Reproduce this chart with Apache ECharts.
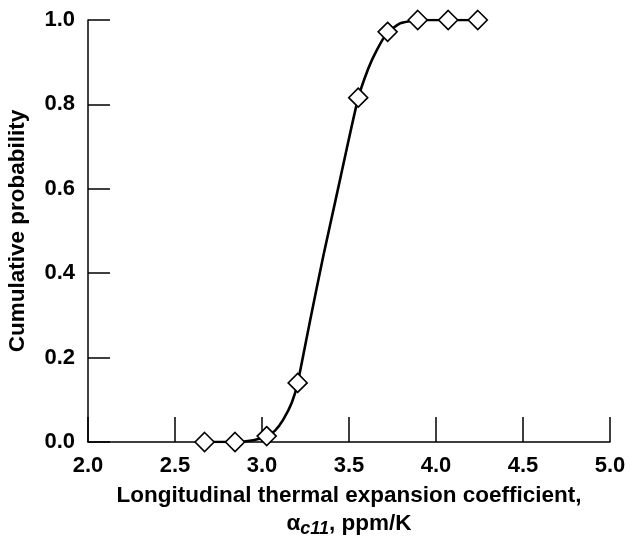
<!DOCTYPE html>
<html>
<head>
<meta charset="utf-8">
<script src="https://cdn.jsdelivr.net/npm/echarts@6/dist/echarts.min.js"></script>
<style>
html,body{margin:0;padding:0;background:#fff;}
#chart{width:630px;height:536px;}
</style>
</head>
<body>
<div id="chart"></div>
<script>
// Data
const markerX = [2.67, 2.845, 3.027, 3.205, 3.553, 3.722, 3.895, 4.07, 4.24];
const markerY = [0.0, 0.0, 0.014, 0.14, 0.816, 0.972, 1.0, 1.0, 1.0];
const curveX = [2.67, 2.845, 2.95, 3.027, 3.075, 3.122, 3.171, 3.205, 3.276, 3.352, 3.429, 3.487, 3.553, 3.611, 3.659, 3.717, 3.793, 3.86, 3.895, 4.07, 4.24];
const curveY = [0.0, 0.0, 0.004, 0.014, 0.027, 0.053, 0.093, 0.14, 0.287, 0.440, 0.585, 0.695, 0.815, 0.885, 0.928, 0.968, 0.992, 0.998, 1.0, 1.0, 1.0];
const xTitleLine1 = 'Longitudinal thermal expansion coefficient,';
const yTitle = 'Cumulative probability';

const chart = echarts.init(document.getElementById('chart'), null, {renderer: 'canvas'});
const font = 'Liberation Sans, Arial, Helvetica, sans-serif';
const axisLabelStyle = {color: '#000', fontFamily: font, fontWeight: 'bold', fontSize: 22};

const option = {
  animation: false,
  backgroundColor: '#fff',
  grid: {left: 88, right: 20, top: 20, bottom: 94, containLabel: false, outerBoundsMode: 'none'},
  xAxis: {
    type: 'value', min: 2.0, max: 5.0, interval: 0.5,
    axisLine: {show: true, onZero: false, lineStyle: {color: '#000', width: 1.5}},
    axisTick: {show: true, inside: true, length: 25, lineStyle: {color: '#000', width: 1.5}},
    splitLine: {show: false},
    axisLabel: Object.assign({margin: 13, formatter: v => v.toFixed(1)}, axisLabelStyle),
    name: '{t|' + xTitleLine1 + '}\n{t|α}{s|c11}{t|, ppm/K}',
    nameLocation: 'middle',
    nameGap: 36,
    nameTextStyle: {
      color: '#000', fontFamily: font, fontWeight: 'bold', fontSize: 22.5, lineHeight: 28,
      verticalAlign: 'top',
      rich: {
        t: {color: '#000', fontFamily: font, fontWeight: 'bold', fontSize: 22.5, lineHeight: 28},
        s: {color: '#000', fontFamily: font, fontWeight: 'bold', fontStyle: 'italic', fontSize: 18, lineHeight: 28, verticalAlign: 'bottom', padding: [12, 0, 0, 0]}
      }
    }
  },
  yAxis: {
    type: 'value', min: 0, max: 1.0, interval: 0.2,
    axisLine: {show: true, onZero: false, lineStyle: {color: '#000', width: 1.5}},
    axisTick: {show: true, inside: true, length: 22, lineStyle: {color: '#000', width: 1.5}},
    splitLine: {show: false},
    axisLabel: Object.assign({margin: 13, formatter: v => v.toFixed(1)}, axisLabelStyle),
    name: yTitle,
    nameLocation: 'middle',
    nameGap: 59,
    nameTextStyle: {color: '#000', fontFamily: font, fontWeight: 'bold', fontSize: 22.5}
  },
  series: [
    {
      type: 'line',
      data: curveX.map((x, i) => [x, curveY[i]]),
      smooth: 0.2,
      showSymbol: false,
      lineStyle: {color: '#000', width: 2.6},
      z: 2
    },
    {
      type: 'scatter',
      data: markerX.map((x, i) => [x, markerY[i]]),
      symbol: 'diamond',
      symbolSize: [19, 19],
      itemStyle: {color: '#fff', borderColor: '#000', borderWidth: 1.6, opacity: 1},
      z: 3
    }
  ]
};
chart.setOption(option);
</script>
</body>
</html>
